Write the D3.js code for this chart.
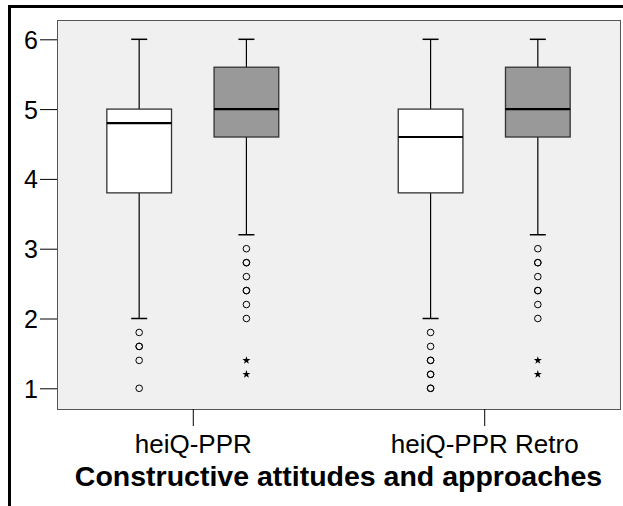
<!DOCTYPE html>
<html>
<head>
<meta charset="utf-8">
<script src="https://cdn.jsdelivr.net/npm/d3@7"></script>
<style>
  html, body { margin: 0; padding: 0; background: #fff; }
  svg { display: block; font-family: Arial, "Liberation Sans", Helvetica, sans-serif; }
</style>
</head>
<body>
<svg id="chart" width="623" height="506"></svg>
<script>
// Scale categories shown on the x axis
const categories = ["heiQ-PPR", "heiQ-PPR Retro"];
// Two boxes per category (white, grey)
const seriesNames = ["first", "second"];
const seriesFill = ["#ffffff", "#999999"];

// Five-number summaries per category, per series: [lower whisker, Q1, median, Q3, upper whisker]
const whiskerLow  = [[2.0, 3.2], [2.0, 3.2]];
const quartile1   = [[3.8, 4.6], [3.8, 4.6]];
const medians     = [[4.8, 5.0], [4.6, 5.0]];
const quartile3   = [[5.0, 5.6], [5.0, 5.6]];
const whiskerHigh = [[6.0, 6.0], [6.0, 6.0]];

// Outlying cases (circles); repeated values are overlapping cases
const outliers = [
  [[1.8, 1.6, 1.6, 1.4, 1.0],
   [3.0, 2.8, 2.8, 2.6, 2.4, 2.4, 2.2, 2.0]],
  [[1.8, 1.6, 1.4, 1.4, 1.2, 1.2, 1.0, 1.0],
   [3.0, 2.8, 2.8, 2.6, 2.4, 2.4, 2.2, 2.0]]
];
// Extreme cases (asterisks)
const extremes = [
  [[], [1.4, 1.2]],
  [[], [1.4, 1.2]]
];

const yTicks = [1, 2, 3, 4, 5, 6];
const title = "Constructive attitudes and approaches";

const svg = d3.select("#chart");
const plot = { left: 57, right: 620, top: 20, bottom: 409 };

const x = d3.scalePoint()
  .domain(categories)
  .range([plot.left, plot.right])
  .padding(0.466);

const step = x.step();
const offset = d3.scalePoint()
  .domain(seriesNames)
  .range([-0.184 * step, 0.184 * step]);
const boxW = 0.222 * step;
const capW = 16;

const y = d3.scaleLinear()
  .domain([1, 6])
  .range([388.3, 39.3]);

// outer frame
svg.append("line").attr("x1", 9).attr("x2", 623).attr("y1", 6.5).attr("y2", 6.5)
  .attr("stroke", "#000").attr("stroke-width", 3);
svg.append("line").attr("x1", 9.5).attr("x2", 9.5).attr("y1", 5).attr("y2", 506)
  .attr("stroke", "#000").attr("stroke-width", 3);

// plot background
svg.append("rect")
  .attr("x", plot.left + 0.5).attr("y", plot.top + 0.5)
  .attr("width", plot.right - plot.left).attr("height", plot.bottom - plot.top)
  .attr("fill", "#f0f0f0").attr("stroke", "#555").attr("stroke-width", 1);

// y axis
const yAxis = svg.append("g")
  .attr("transform", `translate(${plot.left},0)`)
  .call(d3.axisLeft(y).tickValues(yTicks).tickFormat(d3.format("d")).tickSize(17).tickPadding(2));
yAxis.select(".domain").remove();
yAxis.selectAll(".tick line").attr("stroke", "#000");
yAxis.attr("font-size", 25).attr("font-family", null);
yAxis.selectAll(".tick text")
  .attr("fill", "#000")
  .attr("dy", "0.36em");

// x axis
const xAxis = svg.append("g")
  .attr("transform", `translate(0,${plot.bottom})`)
  .call(d3.axisBottom(x).tickSize(17));
xAxis.select(".domain").remove();
xAxis.selectAll(".tick line").attr("stroke", "#000");
xAxis.attr("font-size", 26).attr("font-family", null);
xAxis.selectAll(".tick text")
  .attr("fill", "#000")
  .attr("y", 44).attr("dy", null);

// boxes
const boxes = [];
categories.forEach((c, ci) => {
  seriesNames.forEach((s, si) => {
    boxes.push({
      cx: x(c) + offset(s),
      lo: whiskerLow[ci][si], q1: quartile1[ci][si], med: medians[ci][si],
      q3: quartile3[ci][si], hi: whiskerHigh[ci][si],
      fill: seriesFill[si],
      out: outliers[ci][si], ext: extremes[ci][si]
    });
  });
});

const g = svg.append("g");
boxes.forEach(b => {
  const bx = g.append("g");
  // whiskers
  bx.append("line").attr("x1", b.cx).attr("x2", b.cx).attr("y1", y(b.hi)).attr("y2", y(b.q3))
    .attr("stroke", "#000").attr("stroke-width", 1.2);
  bx.append("line").attr("x1", b.cx).attr("x2", b.cx).attr("y1", y(b.q1)).attr("y2", y(b.lo))
    .attr("stroke", "#000").attr("stroke-width", 1.2);
  // caps
  [b.hi, b.lo].forEach(v => {
    bx.append("line").attr("x1", b.cx - capW / 2).attr("x2", b.cx + capW / 2)
      .attr("y1", y(v)).attr("y2", y(v))
      .attr("stroke", "#000").attr("stroke-width", 1.5);
  });
  // box
  bx.append("rect")
    .attr("x", b.cx - boxW / 2).attr("y", y(b.q3))
    .attr("width", boxW).attr("height", y(b.q1) - y(b.q3))
    .attr("fill", b.fill).attr("stroke", "#333").attr("stroke-width", 1.3);
  // median
  bx.append("line").attr("x1", b.cx - boxW / 2).attr("x2", b.cx + boxW / 2)
    .attr("y1", y(b.med)).attr("y2", y(b.med))
    .attr("stroke", "#000").attr("stroke-width", 2.2);
  // outliers
  bx.selectAll("circle.out").data(b.out).join("circle")
    .attr("class", "out")
    .attr("cx", b.cx).attr("cy", d => y(d)).attr("r", 3.3)
    .attr("fill", "none").attr("stroke", "#000").attr("stroke-width", 1);
  // extremes
  bx.selectAll("path.ext").data(b.ext).join("path")
    .attr("class", "ext")
    .attr("transform", d => `translate(${b.cx},${y(d)})`)
    .attr("d", d3.symbol(d3.symbolStar, 20))
    .attr("fill", "#000");
});

// title
svg.append("text")
  .attr("x", (plot.left + plot.right) / 2).attr("y", 486)
  .attr("text-anchor", "middle")
  .attr("font-size", 28.5).attr("font-weight", "bold").attr("fill", "#000")
  .text(title);
</script>
</body>
</html>
